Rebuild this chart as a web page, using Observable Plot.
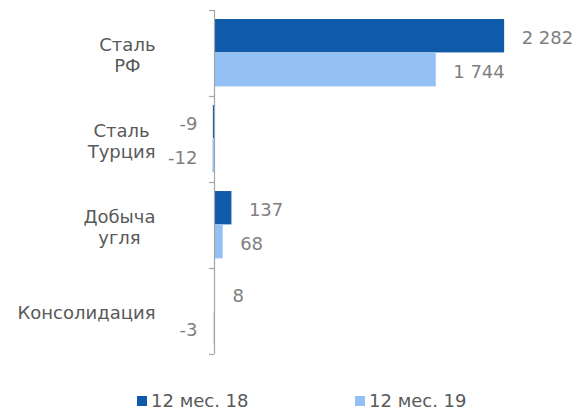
<!DOCTYPE html>
<html>
<head>
<meta charset="utf-8">
<script src="https://cdn.jsdelivr.net/npm/d3@7"></script>
<script src="https://cdn.jsdelivr.net/npm/@observablehq/plot@0.6"></script>
<style>
  html, body { margin: 0; padding: 0; background: #fff; }
  body { width: 577px; height: 411px; overflow: hidden; font-family: "DejaVu Sans", Verdana, sans-serif; }
  #legend { height: 19px; line-height: 19px; font-size: 18px; color: #595959; white-space: nowrap; position: relative; }
  #legend .item { position: absolute; top: 0; display: inline-flex; align-items: center; }
  #legend .sw { display: inline-block; width: 10px; height: 10px; margin-right: 4px; }
</style>
</head>
<body>
<div id="chart"></div>
<div id="legend"></div>
<script>
const categories = ["Сталь\nРФ", "Сталь\nТурция", "Добыча\nугля", "Консолидация"];
const seriesNames = ["12 мес. 18", "12 мес. 19"];
const values18 = [2282, -9, 137, 8];
const values19 = [1744, -12, 68, -3];
const colors = ["#0F5BAA", "#94C1F5"];

const fmt = d3.formatLocale({decimal: ",", thousands: " ", grouping: [3], currency: ["", ""], minus: "-"}).format(",d");

const rows = [];
categories.forEach((c, i) => {
  [values18, values19].forEach((vals, j) => {
    rows.push({cat: c, i, series: seriesNames[j], j, value: vals[i],
      y1: i + 0.105 + j * 0.395, y2: i + 0.105 + j * 0.395 + 0.388});
  });
});
const catRows = categories.map((c, i) => ({cat: c, i}));

const chart = Plot.plot({
  width: 577,
  height: 391,
  marginLeft: 214,
  marginRight: 7,
  marginTop: 10,
  marginBottom: 37,
  style: {fontFamily: "DejaVu Sans, Verdana, sans-serif", fontSize: "18px", background: "#fff"},
  x: {domain: [0, 2800], axis: null},
  y: {domain: [0, 4], reverse: true, axis: null},
  color: {domain: seriesNames, range: colors},
  marks: [
    Plot.rectX(rows, {x1: 0, x2: "value", y1: "y1", y2: "y2", fill: "series"}),
    Plot.ruleX([0], {stroke: "#A6A6A6", strokeWidth: 1.2}),
    Plot.axisY({ticks: [0, 1, 2, 3, 4], tickSize: 5, tickFormat: () => "", stroke: "#A6A6A6", strokeWidth: 1.2}),
    Plot.text(rows.filter(d => d.value >= 0), {x: "value", y: d => (d.y1 + d.y2) / 2, text: d => fmt(d.value), textAnchor: "start", dx: 17, dy: 2, fill: "#7F7F7F", fontSize: 18}),
    Plot.text(rows.filter(d => d.value < 0), {x: 0, y: d => (d.y1 + d.y2) / 2, text: d => fmt(d.value), textAnchor: "end", dx: -17, dy: 2, fill: "#7F7F7F", fontSize: 18}),
    Plot.text(catRows, {x: 0, y: d => d.i + 0.5, text: "cat", textAnchor: "end", dx: -59, dy: 1, lineHeight: 1.2, fill: "#595959", fontSize: 18, className: "catlabels"})
  ]
});
document.getElementById("chart").appendChild(chart);

// center the lines of each category label within its right-aligned block
chart.querySelectorAll("g.catlabels text").forEach(t => {
  const spans = t.querySelectorAll("tspan");
  if (spans.length < 2) return;
  const w = Math.max(...Array.from(spans, s => s.getComputedTextLength()));
  t.setAttribute("text-anchor", "middle");
  spans.forEach(s => s.setAttribute("x", -w / 2));
});

const legend = document.getElementById("legend");
const lefts = [137, 355];
seriesNames.forEach((s, k) => {
  const item = document.createElement("span");
  item.className = "item";
  item.style.left = lefts[k] + "px";
  const sw = document.createElement("span");
  sw.className = "sw";
  sw.style.background = colors[k];
  item.appendChild(sw);
  item.appendChild(document.createTextNode(s));
  legend.appendChild(item);
});
</script>
</body>
</html>
